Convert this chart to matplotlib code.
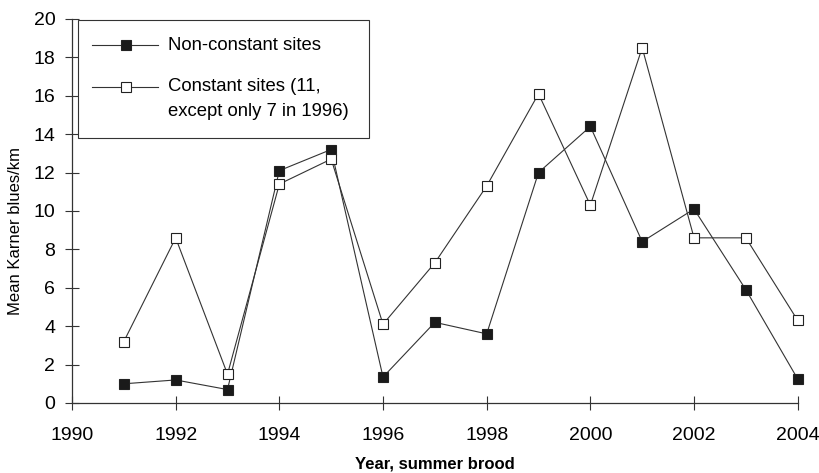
import matplotlib
matplotlib.use("Agg")
import matplotlib.pyplot as plt
from matplotlib.lines import Line2D
from matplotlib.patches import Rectangle

plt.rcParams['font.family'] = ['Liberation Sans', 'DejaVu Sans']

# Karner blue counts per km, summer brood
years = [1991, 1992, 1993, 1994, 1995, 1996, 1997, 1998, 1999, 2000, 2001, 2002, 2003, 2004]
non_constant = [1.0, 1.2, 0.7, 12.1, 13.2, 1.35, 4.2, 3.6, 12.0, 14.4, 8.4, 10.1, 5.9, 1.25]
constant = [3.2, 8.6, 1.5, 11.4, 12.7, 4.1, 7.3, 11.3, 16.1, 10.3, 18.5, 8.6, 8.6, 4.3]
labels = ['Non-constant sites', 'Constant sites (11,', 'except only 7 in 1996)']

fig = plt.figure(figsize=(8.2, 4.73), dpi=100)
ax = fig.add_axes([0.0878, 0.148, 0.885, 0.812])

line_kw = dict(color='#333333', lw=0.8, marker='s', markersize=7,
               markeredgecolor='#222222', markeredgewidth=0.8, clip_on=False, zorder=3)
ax.plot(years, non_constant, markerfacecolor='#1a1a1a', **line_kw)
ax.plot(years, constant, markerfacecolor='white', **line_kw)

ax.set_xlim(1990, 2004)
ax.set_ylim(0, 20)
ax.set_xticks(range(1990, 2005, 2))
ax.set_yticks(range(0, 21, 2))
ax.tick_params(direction='inout', length=10, width=0.8, labelsize=14, color='#333333')
ax.tick_params(axis='y', pad=7)
ax.tick_params(axis='x', pad=12)
for s in ['top', 'right']:
    ax.spines[s].set_visible(False)
for s in ['left', 'bottom']:
    ax.spines[s].set_linewidth(0.9)
    ax.spines[s].set_color('#333333')

ax.set_xlabel('Year, summer brood', fontsize=12, fontweight='bold', labelpad=9)
ax.set_ylabel('Mean Karner blues/km', fontsize=12)
ax.yaxis.set_label_coords(-0.067, 0.448)

# legend box drawn by hand so the second handle sits on the first text line
ax.add_patch(Rectangle((0.0083, 0.690), 0.401, 0.307, transform=ax.transAxes,
                       facecolor='white', edgecolor='#333333', lw=0.8, zorder=4))
for y, fc in [(0.932, '#1a1a1a'), (0.823, 'white')]:
    ax.add_line(Line2D([0.0275, 0.118], [y, y], transform=ax.transAxes,
                       color='#333333', lw=0.8, zorder=5))
    ax.add_line(Line2D([0.0744], [y], transform=ax.transAxes, marker='s',
                       markersize=7, markerfacecolor=fc, markeredgecolor='#222222',
                       markeredgewidth=0.8, zorder=6))
ax.text(0.132, 0.932, labels[0], transform=ax.transAxes, fontsize=13.3, va='center', zorder=6)
ax.text(0.132, 0.823, labels[1], transform=ax.transAxes, fontsize=13.3, va='center', zorder=6)
ax.text(0.132, 0.760, labels[2], transform=ax.transAxes, fontsize=13.3, va='center', zorder=6)

fig.savefig('out.png', dpi=100)
